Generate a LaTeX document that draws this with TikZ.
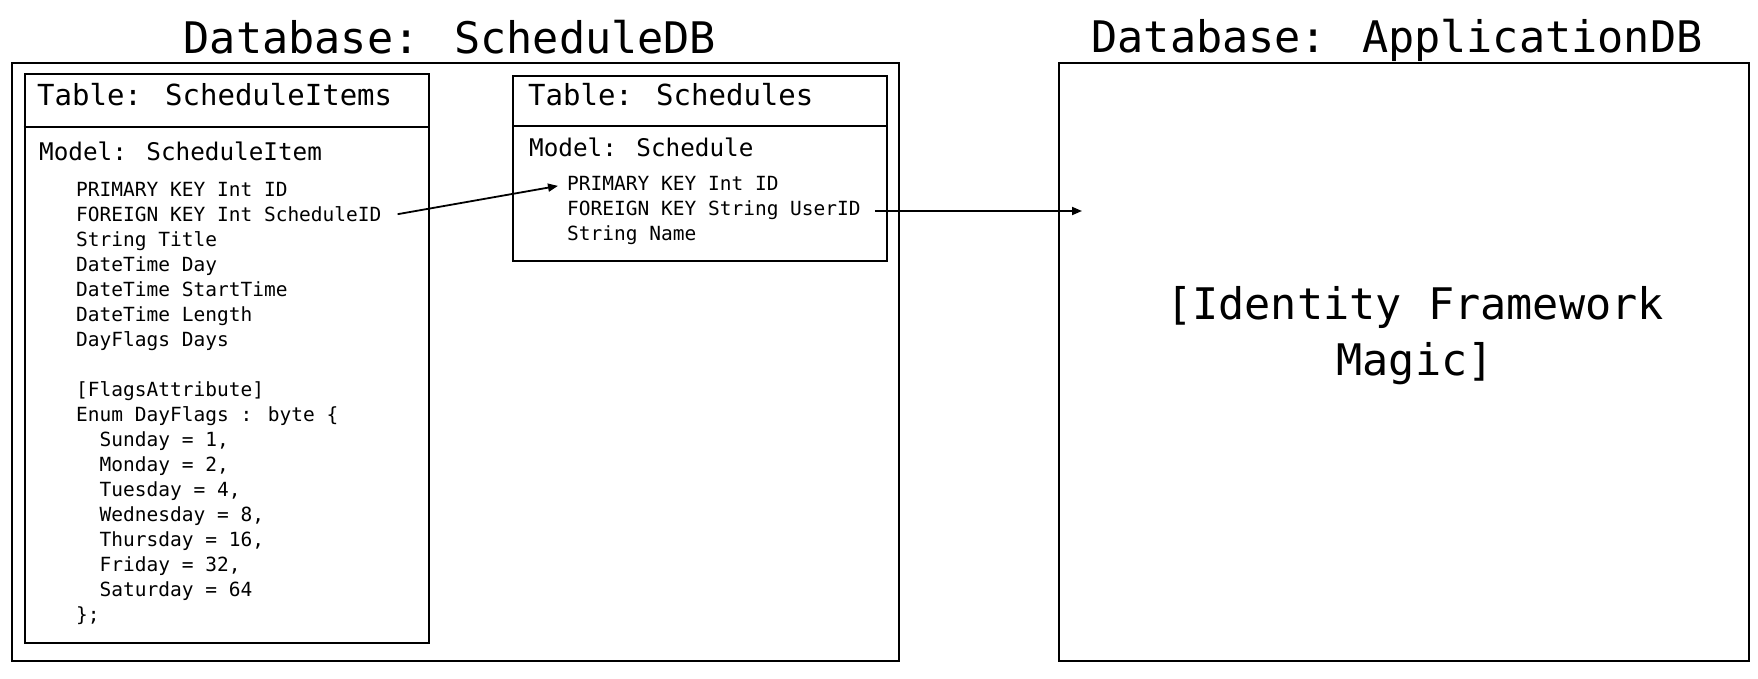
\documentclass[tikz,border=0pt]{standalone}
\usepackage{fontspec}
\newfontfamily\codefont{DejaVu Sans Mono}
\usetikzlibrary{arrows.meta}
\begin{document}
\begin{tikzpicture}[x=1pt,y=-1pt,
  box/.style={draw=black,line width=2.2pt,inner sep=0pt,anchor=north west},
  divider/.style={draw=black,line width=2.2pt},
  bigtxt/.style={inner sep=0pt,anchor=base,font=\codefont\fontsize{43.5}{52}\selectfont},
  headtxt/.style={inner sep=0pt,anchor=base west,font=\codefont\fontsize{29}{34}\selectfont},
  modeltxt/.style={inner sep=0pt,anchor=base west,font=\codefont\fontsize{24.3}{29}\selectfont},
  fieldtxt/.style={inner sep=0pt,anchor=base west,font=\codefont\fontsize{19.5}{25}\selectfont},
  arr/.style={draw=black,line width=1.8pt,-{Triangle[length=10pt,width=8pt]}}]
\useasboundingbox (0,0) rectangle (1758,678);
\fill[white] (0,0) rectangle (1758,678);

% Database: ScheduleDB
\node[bigtxt] (titleA) at (450,53) {Database: ScheduleDB};
\node[box,minimum width=887pt,minimum height=598pt] (dbA) at (11,62) {};

% Table: ScheduleItems
\node[box,minimum width=404.5pt,minimum height=569pt] (si) at (23.5,73) {};
\draw[divider] (si.west |- 0,127) -- (si.east |- 0,127);
\node[headtxt] (siH) at (37,105.5) {Table: ScheduleItems};
\node[modeltxt] (siM) at (39,160) {Model: ScheduleItem};
\node[fieldtxt] (si0) at (76,196.5) {PRIMARY KEY Int ID};
\node[fieldtxt] (si1) at (76,221.5) {FOREIGN KEY Int ScheduleID};
\node[fieldtxt] (si2) at (76,246.5) {String Title};
\node[fieldtxt] (si3) at (76,271.5) {DateTime Day};
\node[fieldtxt] (si4) at (76,296.5) {DateTime StartTime};
\node[fieldtxt] (si5) at (76,321.5) {DateTime Length};
\node[fieldtxt] (si6) at (76,346.5) {DayFlags Days};
\node[fieldtxt] (si8) at (76,396.5) {[FlagsAttribute]};
\node[fieldtxt] (si9) at (76,421.5) {Enum DayFlags : byte \{};
\node[fieldtxt] (si10) at (99.5,446.5) {Sunday = 1,};
\node[fieldtxt] (si11) at (99.5,471.5) {Monday = 2,};
\node[fieldtxt] (si12) at (99.5,496.5) {Tuesday = 4,};
\node[fieldtxt] (si13) at (99.5,521.5) {Wednesday = 8,};
\node[fieldtxt] (si14) at (99.5,546.5) {Thursday = 16,};
\node[fieldtxt] (si15) at (99.5,571.5) {Friday = 32,};
\node[fieldtxt] (si16) at (99.5,596.5) {Saturday = 64};
\node[fieldtxt] (si17) at (76,621.5) {\};};

% Table: Schedules
\node[box,minimum width=374pt,minimum height=185pt] (sc) at (512,75) {};
\draw[divider] (sc.west |- 0,126) -- (sc.east |- 0,126);
\node[headtxt] (scH) at (528,105.5) {Table: Schedules};
\node[modeltxt] (scM) at (529,156) {Model: Schedule};
\node[fieldtxt] (sc0) at (567,190) {PRIMARY KEY Int ID};
\node[fieldtxt] (sc1) at (567,215) {FOREIGN KEY String UserID};
\node[fieldtxt] (sc2) at (567,240) {String Name};

% Database: ApplicationDB
\node[bigtxt] (titleB) at (1397,52) {Database: ApplicationDB};
\node[box,minimum width=690pt,minimum height=598pt] (dbB) at (1058,62) {};
\node[bigtxt] (magic1) at (1415,319) {[Identity Framework};
\node[bigtxt] (magic2) at (1415,375) {Magic]};

% connectors
\coordinate (appin) at (1082,211);
\draw[arr] ([xshift=16pt]si1.east) -- ([xshift=-9pt,yshift=-3pt]sc0.west);
\draw[arr] ([xshift=14pt]sc1.east |- appin) -- (appin);
\end{tikzpicture}
\end{document}
